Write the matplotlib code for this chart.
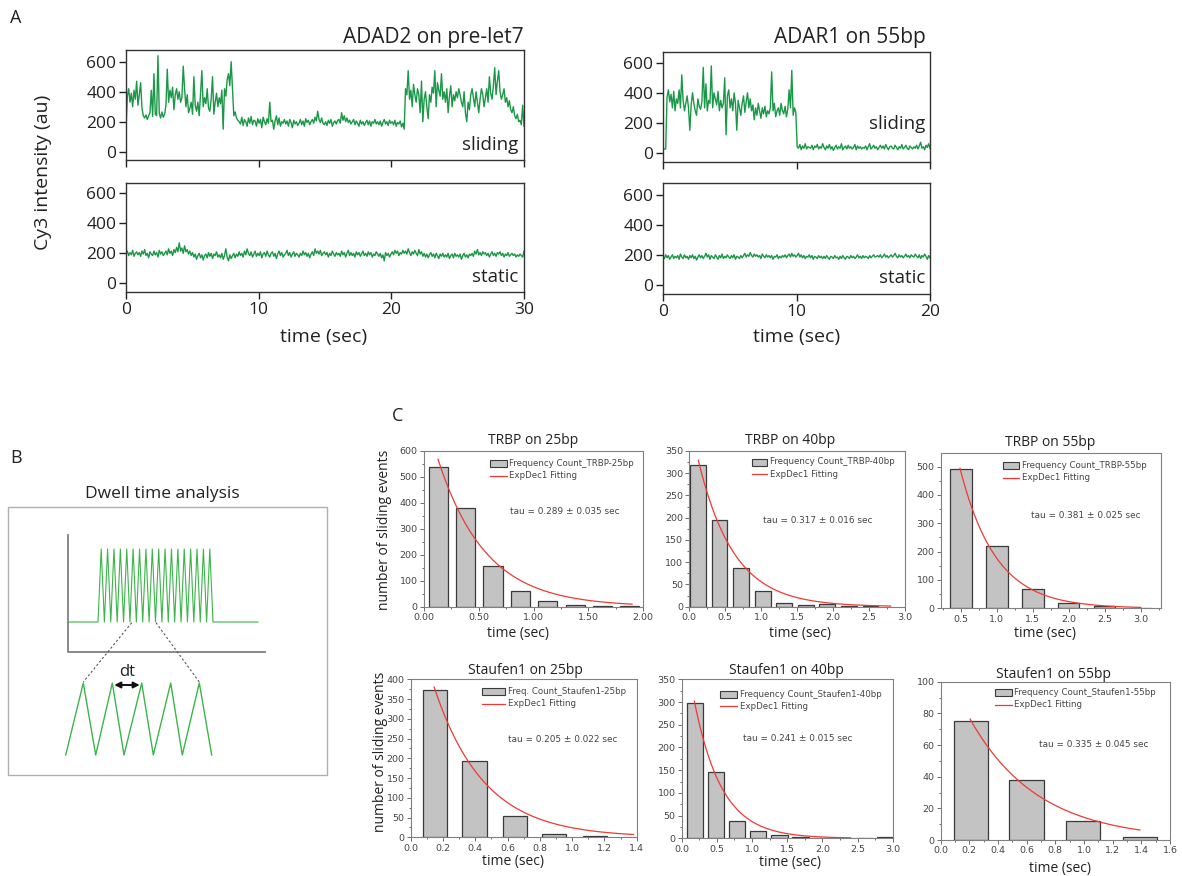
import numpy as np
import matplotlib
matplotlib.use('Agg')
import matplotlib.pyplot as plt
from matplotlib.patches import Rectangle, FancyArrowPatch
from matplotlib.ticker import AutoMinorLocator, FormatStrFormatter

plt.rcParams['font.family'] = ['Open Sans', 'DejaVu Sans']

# ---------------- Panel A data ----------------
adad2_sliding = [
    150, 370, 420, 330, 390, 300, 410, 350, 470, 310,
    380, 460, 290, 240, 225, 245, 215, 240, 260, 410,
    235, 520, 250, 240, 640, 255, 225, 265, 230, 250,
    310, 550, 330, 410, 360, 430, 280, 380, 420, 350,
    400, 330, 360, 570, 420, 300, 380, 260, 290, 330,
    250, 500, 310, 270, 330, 240, 390, 540, 300, 360,
    320, 420, 290, 270, 350, 500, 250, 330, 390, 300,
    360, 320, 410, 150, 420, 370, 480, 520, 440, 600,
    420, 240, 265, 225, 210, 200, 185, 230, 175, 215,
    200, 170, 225, 190, 235, 180, 210, 205, 170, 220,
    190, 215, 160, 230, 200, 180, 220, 190, 330, 200,
    210, 150, 205, 240, 180, 225, 170, 200, 190, 215,
    185, 205, 170, 215, 195, 160, 210, 185, 200, 175,
    190, 215, 180, 205, 170, 220, 195, 210, 180, 200,
    215, 190, 230, 205, 270, 215, 195, 225, 190, 180,
    200, 175, 210, 190, 215, 170, 195, 205, 185, 210,
    215, 190, 260, 210, 240, 200, 225, 195, 210, 185,
    200, 215, 180, 205, 190, 170, 210, 185, 200, 175,
    195, 210, 180, 205, 170, 200, 190, 215, 185, 200,
    180, 205, 170, 195, 215, 185, 200, 175, 210, 190,
    200, 180, 210, 170, 195, 185, 205, 165, 190, 150,
    420, 380, 540, 350, 410, 300, 450, 380, 330, 420,
    380, 260, 470, 200, 350, 400, 300, 220, 380, 330,
    430, 390, 540, 300, 460, 410, 370, 520, 350, 400,
    330, 420, 260, 370, 440, 300, 380, 340, 400, 360,
    420, 380, 330, 300, 400, 260, 200, 330, 280, 380,
    420, 360, 300, 400, 330, 260, 350, 420, 380, 300,
    360, 420, 330, 500, 390, 350, 440, 560, 380, 470,
    540, 400, 350, 380, 420, 330, 360, 300, 340, 280,
    260, 300, 240, 220, 250, 200, 210, 180, 310, 170,
]
adad2_static = [
    200, 215, 185, 205, 190, 220, 180, 200, 210, 190,
    205, 180, 215, 195, 225, 185, 200, 170, 210, 195,
    185, 215, 190, 205, 175, 220, 195, 210, 185, 200,
    215, 190, 230, 200, 215, 185, 225, 205, 240, 210,
    270, 215, 235, 200, 250, 210, 225, 195, 215, 185,
    205, 175, 195, 160, 185, 200, 170, 190, 155, 185,
    195, 170, 205, 180, 200, 165, 195, 185, 210, 175,
    190, 170, 200, 160, 185, 230, 175, 150, 190, 165,
    185, 200, 170, 195, 180, 210, 185, 200, 175, 215,
    190, 230, 200, 185, 210, 175, 195, 215, 180, 200,
    185, 210, 170, 195, 205, 180, 215, 190, 175, 200,
    210, 180, 200, 165, 195, 215, 185, 205, 175, 190,
    200, 220, 185, 205, 175, 195, 210, 180, 200, 190,
    175, 200, 185, 215, 190, 205, 180, 200, 170, 195,
    210, 185, 230, 200, 215, 195, 220, 185, 200, 210,
    190, 205, 175, 200, 185, 215, 195, 180, 205, 190,
    200, 180, 215, 190, 205, 175, 200, 220, 185, 205,
    185, 200, 175, 210, 190, 205, 180, 195, 215, 185,
    200, 180, 210, 190, 205, 175, 195, 185, 210, 195,
    180, 200, 170, 190, 150, 205, 185, 200, 175, 195,
    210, 190, 220, 200, 215, 185, 205, 195, 220, 200,
    215, 195, 230, 205, 185, 210, 195, 220, 200, 185,
    225, 195, 210, 180, 200, 175, 195, 170, 190, 205,
    180, 195, 170, 200, 185, 165, 195, 180, 200, 175,
    190, 175, 200, 165, 185, 195, 170, 200, 180, 190,
    175, 195, 160, 185, 200, 175, 190, 170, 195, 185,
    200, 180, 215, 195, 225, 190, 205, 185, 210, 195,
    205, 185, 200, 175, 195, 210, 185, 200, 180, 205,
    195, 210, 185, 200, 175, 195, 185, 205, 180, 190,
    200, 185, 195, 175, 190, 180, 195, 185, 175, 215,
]
adar1_sliding = [
    25, 25, 25, 370, 420, 340, 390, 300, 410, 280,
    360, 330, 420, 300, 520, 350, 280, 330, 380, 300,
    150, 320, 400, 330, 280, 250, 360, 310, 290, 340,
    570, 300, 460, 280, 350, 330, 580, 300, 400, 360,
    320, 410, 280, 350, 300, 330, 500, 120, 380, 420,
    300, 360, 280, 400, 330, 150, 350, 300, 250, 330,
    380, 270, 340, 400, 300, 360, 280, 320, 220, 300,
    250, 330, 280, 230, 300, 260, 310, 240, 280, 260,
    300, 540, 280, 330, 240, 280, 300, 250, 330, 280,
    260, 310, 240, 290, 420, 300, 550, 250, 300, 270,
    40, 30, 55, 20, 45, 30, 60, 25, 40, 35,
    30, 50, 20, 45, 35, 55, 25, 40, 30, 60,
    35, 20, 45, 30, 55, 25, 40, 15, 35, 50,
    25, 40, 30, 60, 20, 35, 45, 25, 50, 30,
    40, 25, 35, 55, 20, 45, 30, 40, 25, 35,
    30, 45, 20, 40, 60, 25, 35, 50, 30, 40,
    20, 35, 50, 30, 45, 25, 55, 35, 20, 40,
    45, 30, 25, 50, 35, 20, 40, 30, 55, 25,
    35, 50, 30, 20, 45, 35, 25, 40, 30, 50,
    25, 45, 70, 30, 40, 20, 50, 35, 60, 30,
]
adar1_static = [
    190, 175, 200, 180, 195, 170, 185, 200, 175, 190,
    180, 195, 170, 205, 185, 175, 200, 180, 190, 170,
    195, 180, 200, 175, 190, 165, 185, 200, 180, 195,
    175, 190, 210, 185, 200, 170, 195, 185, 175, 200,
    185, 170, 195, 180, 205, 175, 190, 180, 200, 185,
    175, 195, 180, 200, 170, 190, 185, 175, 195, 180,
    195, 210, 185, 200, 190, 215, 195, 185, 205, 190,
    200, 185, 195, 175, 205, 190, 180, 200, 185, 195,
    180, 195, 170, 190, 185, 200, 175, 190, 180, 195,
    185, 200, 180, 195, 205, 185, 210, 190, 200, 185,
    195, 210, 185, 200, 180, 195, 175, 190, 185, 200,
    180, 195, 170, 190, 185, 175, 195, 180, 190, 175,
    190, 175, 195, 180, 170, 190, 185, 175, 195, 180,
    185, 170, 190, 175, 195, 180, 170, 190, 185, 175,
    195, 180, 190, 175, 185, 200, 180, 190, 175, 195,
    180, 190, 185, 175, 195, 180, 190, 200, 185, 190,
    195, 185, 200, 180, 190, 205, 185, 195, 180, 190,
    200, 185, 195, 210, 190, 180, 200, 185, 195, 180,
    190, 205, 185, 195, 180, 200, 190, 185, 205, 190,
    180, 200, 175, 195, 185, 205, 190, 170, 195, 180,
]
trace_yticks = [0, 200, 400, 600]
adad2_xticks = [0, 10, 20, 30]
adar1_xticks = [0, 10, 20]

# ---------------- Panel C data ----------------
trbp25_centers = [0.13, 0.38, 0.63, 0.88, 1.13, 1.38, 1.63, 1.88]
trbp25_counts = [540, 380, 155, 60, 22, 8, 3, 3]
trbp25_fit = (762, 0.436, 0.128, 1.9)   # amplitude, decay, x start, x end

trbp40_centers = [0.12, 0.42, 0.72, 1.02, 1.32, 1.62, 1.92, 2.22, 2.52]
trbp40_counts = [318, 194, 87, 35, 9, 4, 5, 2, 1]
trbp40_fit = (424, 0.494, 0.125, 2.8)

trbp55_centers = [0.5, 1.0, 1.5, 2.0, 2.5, 3.0]
trbp55_counts = [490, 220, 67, 18, 8, 2]
trbp55_fit = (1325, 0.4965, 0.49, 3.0)

stau25_centers = [0.15, 0.395, 0.645, 0.89, 1.14]
stau25_counts = [373, 193, 55, 9, 4]
stau25_fit = (607, 0.31, 0.145, 1.38)

stau40_centers = [0.19, 0.49, 0.79, 1.09, 1.39, 1.69, 1.99, 2.29, 2.59, 2.89]
stau40_counts = [297, 145, 38, 17, 7, 3, 1, 1, 0, 2]
stau40_fit = (479, 0.39, 0.18, 2.4)

stau55_centers = [0.21, 0.6, 0.995, 1.39]
stau55_counts = [75, 38, 12, 2]
stau55_fit = (117.6, 0.475, 0.205, 1.39)

# ---------------- figure ----------------
W, H = 1182, 876
fig = plt.figure(figsize=(W / 100, H / 100), dpi=100)
GREEN = '#1a9847'


def rect(l, t, r, b):
    return [l / W, 1 - b / H, (r - l) / W, (b - t) / H]


def ft(x, y, s, **kw):
    kw.setdefault('va', 'center')
    fig.text(x / W, 1 - y / H, s, **kw)


def trace_ax(box, y, xticks, ylim, labels):
    ax = fig.add_axes(rect(*box))
    t = np.linspace(xticks[0], xticks[-1], len(y))
    ax.plot(t, y, color=GREEN, lw=1.0)
    ax.set_xlim(xticks[0], xticks[-1])
    ax.set_ylim(*ylim)
    ax.set_yticks(trace_yticks)
    ax.set_xticks(xticks)
    if not labels:
        ax.set_xticklabels([])
    ax.tick_params(direction='out', length=5, width=1, labelsize=12.5,
                   colors='#222', pad=2)
    for s in ax.spines.values():
        s.set_linewidth(1.0)
        s.set_color('#333')
    return ax


trace_ax((126, 50, 524, 160), adad2_sliding, adad2_xticks, (-55, 678), False)
trace_ax((126, 183, 524, 292), adad2_static, adad2_xticks, (-58, 669), True)
trace_ax((663, 52, 930, 162), adar1_sliding, adar1_xticks, (-62, 673), False)
trace_ax((663, 183, 930, 294), adar1_static, adar1_xticks, (-62, 680), True)

ft(524, 37, 'ADAD2 on pre-let7', ha='right', fontsize=15, color='#222')
ft(926, 37, 'ADAR1 on 55bp', ha='right', fontsize=15, color='#222')
ft(518, 145, 'sliding', ha='right', fontsize=13.5, color='#222')
ft(518, 277, 'static', ha='right', fontsize=13.5, color='#222')
ft(925, 124, 'sliding', ha='right', fontsize=13.5, color='#222')
ft(925, 278, 'static', ha='right', fontsize=13.5, color='#222')
ft(43, 172, 'Cy3 intensity (au)', ha='center', rotation=90, fontsize=14, color='#222')
ft(324, 337, 'time (sec)', ha='center', fontsize=14, color='#222')
ft(797, 337, 'time (sec)', ha='center', fontsize=14, color='#222')
ft(16, 18, 'A', ha='center', fontsize=13, color='#222')
ft(16, 458, 'B', ha='center', fontsize=13, color='#222')
ft(398, 416, 'C', ha='center', fontsize=13, color='#222')

# ---------------- overlay (schematic + legend glyphs) ----------------
bx = fig.add_axes([0, 0, 1, 1])
bx.set_xlim(0, W)
bx.set_ylim(H, 0)
bx.axis('off')
bx.patch.set_alpha(0)
bx.set_zorder(10)

ft(162, 494, 'Dwell time analysis', ha='center', fontsize=12.5, color='#222')
bx.add_patch(Rectangle((8, 507), 319, 268, fill=False, ec='#b0b0b0', lw=1.0))
bx.plot([67.7, 67.7, 265], [535, 651.7, 651.7], color='#808080', lw=1.3)
n_peaks = 18
zx = [68, 98]
zy = [622, 622]
per = (213 - 98) / n_peaks
for k in range(n_peaks):
    zx += [98 + per * (k + 0.5), 98 + per * (k + 1)]
    zy += [549, 622]
zx.append(258)
zy.append(622)
bx.plot(zx, zy, color='#3cb54a', lw=0.8)
bx.plot([131.7, 83.3], [622.7, 682], color='#555', lw=0.8, ls=(0, (2, 2)))
bx.plot([156, 199.3], [622.7, 682], color='#555', lw=0.8, ls=(0, (2, 2)))
big_x = [65.7, 83.3, 95.7, 112.3, 124, 141.7, 153.3, 170.7, 182.3, 199.3, 211.7]
big_y = [755 if i % 2 == 0 else 683 for i in range(len(big_x))]
bx.plot(big_x, big_y, color='#3cb54a', lw=1.0)
bx.add_patch(FancyArrowPatch((111.5, 685), (142.5, 685), arrowstyle='<|-|>',
                             mutation_scale=9, color='#111', lw=1.4))
ft(127, 672, 'dt', ha='center', fontsize=12, color='#222')

# ---------------- Panel C histograms ----------------
RED = '#ec3b34'


def hist_ax(box, centers, counts, width, fit, xlim, ylim, xticks, yticks, xfmt,
            title, tpos, xlpos, leg, label, tau, taupos):
    ax = fig.add_axes(rect(*box))
    ax.bar(centers, counts, width=width, color='#c3c3c3', edgecolor='#3a3a3a', lw=0.9,
           zorder=2)
    A, tau_v, x0, x1 = fit
    xs = np.linspace(x0, x1, 200)
    ax.plot(xs, A * np.exp(-xs / tau_v), color=RED, lw=0.9, zorder=3)
    ax.set_xlim(*xlim)
    ax.set_ylim(*ylim)
    ax.set_xticks(xticks)
    ax.set_yticks(yticks)
    ax.xaxis.set_major_formatter(FormatStrFormatter(xfmt))
    ax.xaxis.set_minor_locator(AutoMinorLocator(2))
    ax.yaxis.set_minor_locator(AutoMinorLocator(2))
    ax.tick_params(which='both', direction='out', width=0.6, colors='#555',
                   labelsize=6.8, pad=1.5)
    ax.tick_params(which='major', length=3)
    ax.tick_params(which='minor', length=1.5)
    for lab in ax.get_xticklabels() + ax.get_yticklabels():
        lab.set_family('DejaVu Sans')
        lab.set_color('#444')
    for s in ax.spines.values():
        s.set_linewidth(0.8)
        s.set_color('#808080')
    ft(tpos[0], tpos[1], title, ha='center', fontsize=10, color='#222')
    ft(xlpos[0], xlpos[1], 'time (sec)', ha='center', fontsize=10, color='#222')
    lx0, lx1, ly = leg
    bx.add_patch(Rectangle((lx0, ly - 3.5), lx1 - lx0, 7, fc='#c3c3c3', ec='#3a3a3a',
                           lw=0.8))
    bx.plot([lx0, lx1], [ly + 12, ly + 12], color=RED, lw=0.9)
    ft(lx1 + 2.5, ly, label, ha='left', fontsize=6.2, color='#444', family='DejaVu Sans')
    ft(lx1 + 2.5, ly + 12, 'ExpDec1 Fitting', ha='left', fontsize=6.2, color='#444',
       family='DejaVu Sans')
    ft(taupos[0], taupos[1], tau, ha='left', fontsize=6.4, color='#444',
       family='DejaVu Sans')
    return ax


hist_ax((424, 451, 643, 606.7), trbp25_centers, trbp25_counts, 0.175, trbp25_fit,
        (0, 2.0), (0, 600), [0, 0.5, 1.0, 1.5, 2.0], range(0, 601, 100), '%.2f',
        'TRBP on 25bp', (533, 441), (518, 633), (490, 506.7, 463.7),
        'Frequency Count_TRBP-25bp', 'tau = 0.289 \u00b1 0.035 sec', (510, 511.7))
hist_ax((689.3, 451, 905, 606.7), trbp40_centers, trbp40_counts, 0.22, trbp40_fit,
        (0, 3.0), (0, 350), [0, 0.5, 1.0, 1.5, 2.0, 2.5, 3.0], range(0, 351, 50), '%.1f',
        'TRBP on 40bp', (790, 441), (800, 633), (751.7, 767, 462),
        'Frequency Count_TRBP-40bp', 'tau = 0.317 \u00b1 0.016 sec', (763, 520.7))
hist_ax((940.7, 453.3, 1160.7, 608.3), trbp55_centers, trbp55_counts, 0.3, trbp55_fit,
        (0.222, 3.278), (0, 547), [0.5, 1.0, 1.5, 2.0, 2.5, 3.0], range(0, 501, 100), '%.1f',
        'TRBP on 55bp', (1050, 443), (1045, 634), (1002.7, 1019.3, 465.7),
        'Frequency Count_TRBP-55bp', 'tau = 0.381 \u00b1 0.025 sec', (1031, 516))
hist_ax((410.7, 679.3, 636.7, 837.3), stau25_centers, stau25_counts, 0.15, stau25_fit,
        (0, 1.4), (0, 400), [0, 0.2, 0.4, 0.6, 0.8, 1.0, 1.2, 1.4], range(0, 401, 50), '%.1f',
        'Staufen1 on 25bp', (525, 670), (513, 861.7), (481.7, 505, 691.7),
        'Freq. Count_Staufen1-25bp', 'tau = 0.205 \u00b1 0.022 sec', (508.3, 740))
hist_ax((681.7, 679.3, 892.7, 838.3), stau40_centers, stau40_counts, 0.23, stau40_fit,
        (0, 3.0), (0, 350), [0, 0.5, 1.0, 1.5, 2.0, 2.5, 3.0], range(0, 351, 50), '%.1f',
        'Staufen1 on 40bp', (786, 670.7), (790, 862.7), (720, 737.3, 694.3),
        'Frequency Count_Staufen1-40bp', 'tau = 0.241 \u00b1 0.015 sec', (742.7, 738.3))
hist_ax((940.7, 681.7, 1170, 840), stau55_centers, stau55_counts, 0.24, stau55_fit,
        (0, 1.6), (0, 100), [0, 0.2, 0.4, 0.6, 0.8, 1.0, 1.2, 1.4, 1.6], range(0, 101, 20),
        '%.1f', 'Staufen1 on 55bp', (1053, 674), (1060, 868.3), (995, 1011.7, 692.7),
        'Frequency Count_Staufen1-55bp', 'tau = 0.335 \u00b1 0.045 sec', (1039.3, 744.3))

ft(385, 530, 'number of sliding events', ha='center', rotation=90, fontsize=10, color='#222')
ft(380, 752, 'number of sliding events', ha='center', rotation=90, fontsize=10, color='#222')

fig.savefig('out.png', dpi=100)
